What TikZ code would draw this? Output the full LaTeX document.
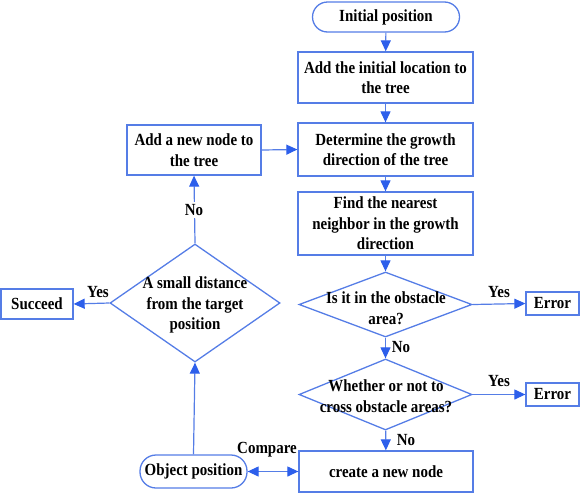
\documentclass[tikz,border=0pt]{standalone}
\usepackage{fontspec}
\setmainfont{Liberation Serif}[FakeStretch=0.88]
\usetikzlibrary{shapes.geometric,arrows.meta}
\definecolor{lineblue}{RGB}{85,125,230}
\definecolor{tipblue}{RGB}{45,95,235}
\tikzset{
  txt/.style={font=\fontsize{17}{20.5}\selectfont\bfseries, align=center, text=black, inner sep=0pt},
  box/.style={draw=lineblue, line width=1.3pt, txt, minimum width=#1},
  rbox/.style={box=#1, rounded corners=15pt},
  dia/.style={draw=lineblue, line width=1.3pt, diamond, inner sep=0pt},
  arr/.style={draw=lineblue, line width=1.2pt, -{Triangle[length=11pt,width=10pt,color=tipblue]}},
  darr/.style={draw=lineblue, line width=1.2pt, {Triangle[length=11pt,width=10pt,color=tipblue]}-{Triangle[length=11pt,width=10pt,color=tipblue]}},
  lab/.style={txt}
}
\begin{document}
\begin{tikzpicture}[x=1pt,y=-1pt]
\useasboundingbox (0,0) rectangle (580,493);
\node[rbox=147pt, minimum height=30pt] (init) at (386,17) {Initial position};
\node[box=175pt, minimum height=51pt] (add1) at (385.5,77.5) {Add the initial location to\\the tree};
\node[box=175pt, minimum height=53pt] (det) at (385.5,149.5) {Determine the growth\\direction of the tree};
\node[box=175pt, minimum height=63pt] (find) at (385.5,223.5) {Find the nearest\\neighbor in the growth\\direction};
\node[dia, minimum width=173pt, minimum height=65pt] (d1) at (385.5,304.5) {};
\node[txt] at (386,308) {Is it in the obstacle\\area?};
\node[dia, minimum width=173pt, minimum height=71pt] (d2) at (385.5,394.5) {};
\node[txt] at (386,396) {Whether or not to\\cross obstacle areas?};
\node[box=174pt, minimum height=41pt] (create) at (386,471.5) {create a new node};
\node[box=53pt, minimum height=23pt] (err1) at (552.5,303.5) {Error};
\node[box=53pt, minimum height=23pt] (err2) at (552.5,394.5) {Error};
\node[box=134pt, minimum height=50pt] (addnew) at (194,150) {Add a new node to\\the tree};
\node[dia, minimum width=170pt, minimum height=118pt] (d3) at (195,303) {};
\node[txt] at (195,305) {A small distance\\from the target\\position};
\node[box=72pt, minimum height=30pt] (succ) at (37,304) {Succeed};
\node[rbox=107pt, minimum height=33pt, rounded corners=16pt] (obj) at (193.5,471.5) {Object position};

\draw[arr] (init) -- (add1);
\draw[arr] (add1) -- (det);
\draw[arr] (det) -- (find);
\draw[arr] (find) -- (d1);
\draw[arr] (d1) -- (d2);
\draw[arr] (d2) -- (create);
\draw[arr] (d1.east) -- (err1.west);
\draw[arr] (d2.east) -- (err2.west);
\draw[arr] (d3.west) -- (succ.east);
\draw[arr] (obj.north) -- (d3.south);
\draw[arr] (d3.north) -- (addnew.south);
\draw[arr] (addnew.east) -- (det.west);
\draw[darr] (obj.east) -- (create.west);

\node[lab] (y1) at (499,292) {Yes};
\node[lab] (y2) at (499,381) {Yes};
\node[lab] (n1) at (401,347) {No};
\node[lab] (n2) at (406,440) {No};
\node[lab] (y3) at (98,292) {Yes};
\node[lab, fill=white, inner sep=2pt] (n3) at (194,210) {No};
\node[lab] (cmp) at (267,450) {Compare};
\end{tikzpicture}
\end{document}
